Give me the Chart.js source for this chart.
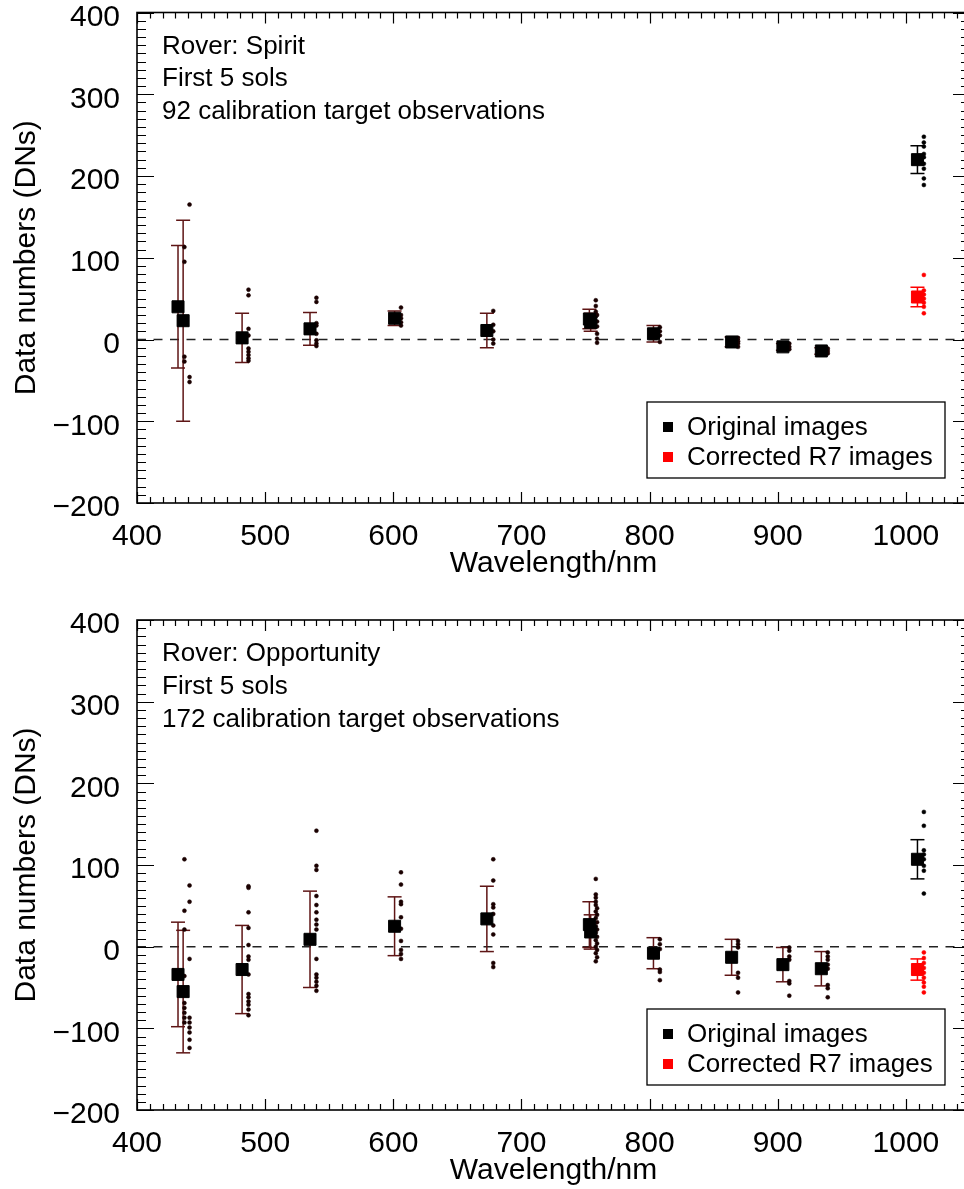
<!DOCTYPE html>
<html>
<head>
<meta charset="utf-8">
<script src="https://cdn.jsdelivr.net/npm/chart.js@4.4.0/dist/chart.umd.min.js"></script>
<style>
  html, body { margin: 0; padding: 0; background: #fff; width: 964px; height: 1189px; overflow: hidden; }
  canvas { position: absolute; left: 0; }
  #spirit { top: 0; }
  #opportunity { top: 600px; }
</style>
</head>
<body>
<canvas id="spirit" width="1000" height="582"></canvas>
<canvas id="opportunity" width="1000" height="589"></canvas>
<script>
// Pancam filters, in plotting order
const filters = ['L7', 'R1', 'L6', 'L5', 'L4', 'L3', 'L2', 'R2', 'R3', 'R4', 'R5', 'R6', 'R7'];
const wavelengths = [432, 436, 482, 535, 601, 673, 753, 754, 803, 864, 904, 934, 1009];
const xLimits = [400, 1050];
const yLimits = [-200, 400];
const DOT_OFFSET = 5; // single observations drawn just right of the mean

// Spirit
const spiritMean = [40, 23, 2, 13, 26, 11, 25, 21, 7, -3, -9, -14, 220];
const spiritStd = [75, 123, 30, 20, 9, 21, 12, 11, 10, 6, 4, 4, 17];
const spiritObs = [
    [113, 95, -21, -27],
    [165, -46, -52],
    [61, 54, 13, 5, -11, -15, -19, -23, -26],
    [51, 46, 20, 17, 7, -1, -5, -8],
    [39, 30, 26, 21, 17],
    [35, 18, 10, 0, -5],
    [48, 41, 34, 28, 22, 16],
    [30, 22, 16, 7, 1, -4],
    [15, 10, 5, -3],
    [2, -2, -5, -9],
    [-5, -9, -12],
    [-11, -14, -17],
    [248, 241, 236, 227, 223, 215, 209, 197, 189]
];
const spiritCorrMean = 52;
const spiritCorrStd = 12;
const spiritCorrObs = [79, 60, 55, 50, 45, 40, 32];

// Opportunity
const oppMean = [-34, -55, -28, 9, 25, 34, 27, 18, -8, -13, -22, -27, 107];
const oppStd = [64, 75, 54, 59, 36, 40, 28, 21, 19, 22, 21, 21, 24];
const oppObs = [
    [107, 44, 21, -36, -69, -75, -81, -87, -93],
    [75, 55, -15, -87, -93, -99, -105, -114, -124],
    [74, 72, 42, 23, 2, -12, -16, -34, -58, -62, -67, -71, -77, -84],
    [142, 99, 94, 62, 51, 42, 33, 27, 21, -15, -34, -38, -43, -48, -54],
    [91, 76, 55, 52, 36, 22, 7, -4, -9, -15],
    [107, 81, 52, 48, 40, 26, 15, -20, -25],
    [83, 64, 60, 55, 51, 43, 35, 25, 17, 8, 0, -8, -18],
    [47, 39, 30, 21, 12, 4, -4, -13],
    [9, 3, -3, -28, -31, -41],
    [7, 3, -1, -32, -38, -56],
    [-1, -5, -12, -16, -42, -45, -60],
    [-7, -12, -16, -22, -27, -47, -51, -62],
    [165, 148, 118, 113, 107, 99, 93, 65]
];
const oppCorrMean = -28;
const oppCorrStd = 13;
const oppCorrObs = [-7, -14, -20, -26, -32, -38, -44, -49, -56];

const FONT = "'Liberation Sans', Helvetica, Arial, sans-serif";
const BAR_BROWN = '#5e1515';
const DOT_DARK = '#1a0000';

function errorBarPoints(xs, means, stds) {
    let pts = [];
    for (let i = 0; i < xs.length; i++) {
        pts.push({x: xs[i], y: means[i] - stds[i]});
        pts.push({x: xs[i], y: means[i] + stds[i]});
        pts.push({x: xs[i], y: null});
    }
    return pts;
}

function obsPoints(xs, obs) {
    let pts = [];
    xs.forEach((x, i) => obs[i].forEach(v => pts.push({x: x + DOT_OFFSET, y: v})));
    return pts;
}

// box with IDL-like inward ticks on all four sides
const frameTicks = {
    id: 'frameTicks',
    afterDatasetsDraw(chart) {
        const {ctx, chartArea: a, scales: {x, y}} = chart;
        ctx.save();
        ctx.strokeStyle = '#000';
        ctx.lineWidth = 1.2;
        ctx.beginPath();
        for (let v = x.min; v <= x.max; v += 10) {
            const px = Math.round(x.getPixelForValue(v)) + 0.5;
            const len = v % 100 === 0 ? 11 : 6;
            ctx.moveTo(px, a.bottom); ctx.lineTo(px, a.bottom - len);
            ctx.moveTo(px, a.top); ctx.lineTo(px, a.top + len);
        }
        for (let v = y.min; v <= y.max; v += 10) {
            const py = Math.round(y.getPixelForValue(v)) + 0.5;
            const len = v % 100 === 0 ? 17 : 9;
            ctx.moveTo(a.left, py); ctx.lineTo(a.left + len, py);
            ctx.moveTo(a.right, py); ctx.lineTo(a.right - len, py);
        }
        ctx.stroke();
        ctx.lineWidth = 1.6;
        ctx.strokeRect(a.left, a.top, a.right - a.left, a.bottom - a.top);
        ctx.restore();
    }
};

const annotBox = {
    id: 'annotBox',
    afterDraw(chart, args, opts) {
        const {ctx, chartArea: a} = chart;
        ctx.save();
        ctx.font = '26px ' + FONT;
        ctx.fillStyle = '#000';
        ctx.textBaseline = 'alphabetic';
        opts.lines.forEach((t, i) => ctx.fillText(t, a.left + 25, a.top + 41 + i * 32.8));

        // legend box, lower right
        const items = chart.data.datasets.filter(d => d.inLegend);
        const w = 298, h = 76;
        const bx = a.right - 25 - w, by = a.bottom - 25 - h;
        ctx.fillStyle = '#fff';
        ctx.fillRect(bx, by, w, h);
        ctx.lineWidth = 1.3;
        ctx.strokeStyle = '#000';
        ctx.strokeRect(bx, by, w, h);
        items.forEach((d, i) => {
            const cy = by + 25 + i * 30;
            ctx.fillStyle = d.backgroundColor;
            ctx.fillRect(bx + 16, cy - 5, 10, 10);
            ctx.fillStyle = '#000';
            ctx.fillText(d.label, bx + 40, cy + 8);
        });
        ctx.restore();
    }
};

function makeChart(id, means, stds, obs, corrMean, corrStd, corrObs, lines, padTop) {
    const r7 = wavelengths.length - 1;
    const mainX = wavelengths.slice(0, r7);
    const datasets = [
        {
            label: 'Original images', inLegend: true,
            data: wavelengths.map((x, i) => ({x: x, y: means[i]})),
            backgroundColor: '#000', borderColor: '#000',
            pointStyle: 'rect', pointRadius: 8.5, borderWidth: 1, showLine: false
        },
        {
            label: 'Corrected R7 images', inLegend: true,
            data: [{x: wavelengths[r7], y: corrMean}],
            backgroundColor: '#ff0000', borderColor: '#ff0000',
            pointStyle: 'rect', pointRadius: 8.5, borderWidth: 1, showLine: false
        },
        {
            label: 'obs',
            data: obsPoints(mainX, obs.slice(0, r7)),
            backgroundColor: DOT_DARK, borderColor: DOT_DARK,
            pointRadius: 2, borderWidth: 0.5, showLine: false
        },
        {
            label: 'obs R7',
            data: obsPoints([wavelengths[r7]], [obs[r7]]),
            backgroundColor: '#000', borderColor: '#000',
            pointRadius: 2, borderWidth: 0.5, showLine: false
        },
        {
            label: 'obs R7 corrected',
            data: obsPoints([wavelengths[r7]], [corrObs]),
            backgroundColor: '#ff0000', borderColor: '#ff0000',
            pointRadius: 2, borderWidth: 0.5, showLine: false
        },
        {
            label: 'sd',
            type: 'line',
            data: errorBarPoints(mainX, means.slice(0, r7), stds.slice(0, r7)),
            borderColor: BAR_BROWN, borderWidth: 1.5, spanGaps: false,
            pointStyle: 'line', pointRadius: 7, pointBorderColor: BAR_BROWN, pointBorderWidth: 1.5
        },
        {
            label: 'sd R7',
            type: 'line',
            data: errorBarPoints([wavelengths[r7]], [means[r7]], [stds[r7]]),
            borderColor: '#000', borderWidth: 1.5, spanGaps: false,
            pointStyle: 'line', pointRadius: 7, pointBorderColor: '#000', pointBorderWidth: 1.5
        },
        {
            label: 'sd R7 corrected',
            type: 'line',
            data: errorBarPoints([wavelengths[r7]], [corrMean], [corrStd]),
            borderColor: '#ff0000', borderWidth: 1.5, spanGaps: false,
            pointStyle: 'line', pointRadius: 7, pointBorderColor: '#ff0000', pointBorderWidth: 1.5
        },
        {
            label: 'zero',
            type: 'line',
            data: [{x: xLimits[0], y: 0}, {x: xLimits[1], y: 0}],
            borderColor: '#222', borderWidth: 1.5, borderDash: [9, 7.5],
            pointRadius: 0
        }
    ];

    return new Chart(document.getElementById(id), {
        type: 'scatter',
        data: {datasets: datasets},
        options: {
            responsive: false,
            animation: false,
            devicePixelRatio: 1,
            layout: {padding: {top: padTop, right: 30, bottom: 0, left: 0}},
            plugins: {
                legend: {display: false},
                tooltip: {enabled: false},
                annotBox: {lines: lines}
            },
            scales: {
                x: {
                    type: 'linear', min: xLimits[0], max: xLimits[1],
                    grid: {display: false}, border: {display: false},
                    ticks: {
                        stepSize: 100, includeBounds: false, padding: 8,
                        color: '#000', font: {family: FONT, size: 30},
                        callback: v => String(v)
                    },
                    title: {
                        display: true, text: 'Wavelength/nm', color: '#000',
                        font: {family: FONT, size: 30}, padding: {top: 0, bottom: 0}
                    },
                    afterFit(s) { s.height = 79; s.paddingLeft = 0; s.paddingRight = 0; }
                },
                y: {
                    type: 'linear', min: yLimits[0], max: yLimits[1],
                    grid: {display: false}, border: {display: false},
                    ticks: {
                        stepSize: 100, padding: 9, labelOffset: 5,
                        color: '#000', font: {family: FONT, size: 30},
                        callback: v => String(v).replace('-', '\u2212')
                    },
                    title: {
                        display: true, text: 'Data numbers (DNs)', color: '#000',
                        font: {family: FONT, size: 30}, padding: {top: 9, bottom: 0}
                    },
                    afterFit(s) { s.width = 137; s.paddingTop = 0; s.paddingBottom = 0; }
                }
            }
        },
        plugins: [frameTicks, annotBox]
    });
}

makeChart('spirit', spiritMean, spiritStd, spiritObs, spiritCorrMean, spiritCorrStd, spiritCorrObs,
    ['Rover: Spirit', 'First 5 sols', '92 calibration target observations'], 12.5);
makeChart('opportunity', oppMean, oppStd, oppObs, oppCorrMean, oppCorrStd, oppCorrObs,
    ['Rover: Opportunity', 'First 5 sols', '172 calibration target observations'], 20);
</script>
</body>
</html>
